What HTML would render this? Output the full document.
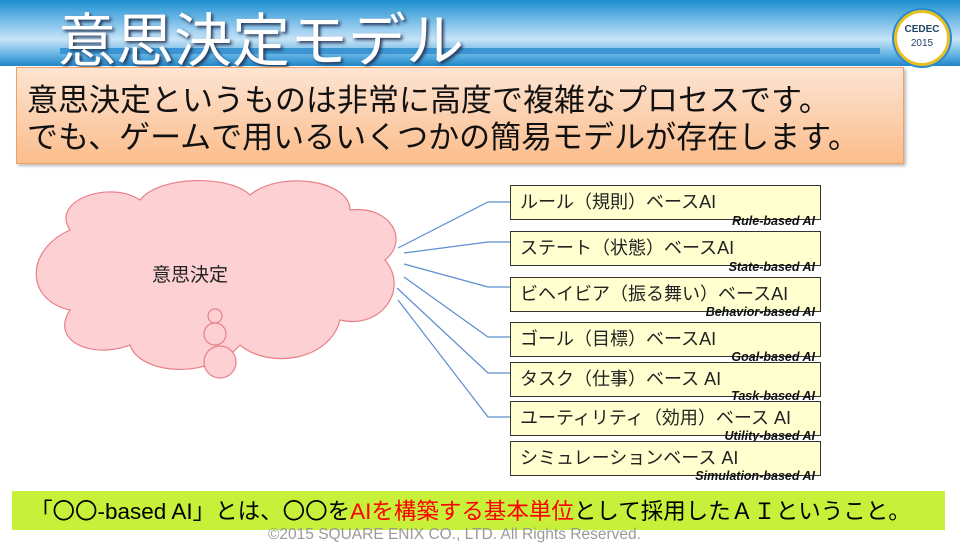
<!DOCTYPE html>
<html><head><meta charset="utf-8"><style>
body{margin:0;width:960px;height:540px;overflow:hidden;background:#fff;font-family:"Liberation Sans","Noto Sans CJK JP",sans-serif;position:relative}
.hdr{position:absolute;left:0;top:0;width:960px;height:66px;background:linear-gradient(#1a8fd0 0%,#9fd0f2 45%,#c6e3f7 60%,#5aaee0 85%,#1f86c8 100%)}
.bar{position:absolute;left:60px;top:48px;width:820px;height:6px;background:#3b95d2}
.title{position:absolute;left:58px;top:-6px;font-size:58px;color:#fff;text-shadow:2px 2px 3px #235;font-family:"Noto Sans CJK JP",sans-serif;white-space:nowrap}
.logo{position:absolute;left:894px;top:10px;width:50px;height:50px;border-radius:50%;background:#fff;border:3px solid #e8c020;box-shadow:0 0 0 2px #2a8ad0;text-align:center;font-size:10px;line-height:14px;color:#246}
.intro{position:absolute;left:16px;top:67px;width:886px;height:95px;background:linear-gradient(#fde4d2,#fbbd8c);border:1px solid #f0a060;box-shadow:2px 2px 3px #bbb}
.intro div{position:absolute;left:10px;font-size:31px;color:#111;font-family:"Noto Sans CJK JP",sans-serif;white-space:nowrap;line-height:36px}
.box{position:absolute;left:510px;height:35px;background:#ffffd0;border:1px solid #333;font-size:18px;line-height:33px;padding-left:9px;box-sizing:border-box;width:311px;color:#222}
.sub{position:absolute;right:145px;font-size:12.5px;font-style:italic;font-weight:bold;color:#111}
.green{position:absolute;left:12px;top:491px;width:933px;height:39px;background:#c6f03a;font-size:22.5px;line-height:39px;padding-left:18px;box-sizing:border-box;white-space:nowrap;font-family:"Noto Sans CJK JP",sans-serif}
.green span.l{font-family:"Liberation Sans","Noto Sans CJK JP",sans-serif}
.copy{position:absolute;left:268px;top:526px;font-size:15.5px;color:#999}
</style></head><body>
<div class="hdr"></div><div class="bar"></div>
<div class="title">意思決定モデル</div>
<div class="logo"><div style="margin-top:10px;font-weight:bold">CEDEC</div><div>2015</div></div>
<div class="intro"><div style="top:12px">意思決定というものは非常に高度で複雑なプロセスです。</div><div style="top:49px">でも、ゲームで用いるいくつかの簡易モデルが存在します。</div></div>
<svg style="position:absolute;left:0;top:0" width="960" height="540">
<g fill="#fdd0d4" stroke="#e88088" stroke-width="1.2">
<path d="M70,230 C50,200 110,180 140,200 C160,175 230,175 250,195 C280,170 350,180 350,210 C390,205 410,240 385,260 C410,290 380,330 340,320 C330,360 270,370 240,345 C210,380 140,375 130,345 C90,360 50,340 70,310 C25,300 25,250 70,230 Z"/>
<circle cx="215" cy="316" r="7"/><circle cx="215" cy="334" r="11"/><circle cx="220" cy="362" r="16"/>
</g>
<text x="152" y="281" font-size="19" fill="#222" font-family="Noto Sans CJK JP">意思決定</text>
<g fill="none" stroke="#5b8fd0" stroke-width="1.2">
<polyline points="398,248 488,202 510,202"/>
<polyline points="404,253 488,242 510,242"/>
<polyline points="404,264 488,287 510,287"/>
<polyline points="404,277 488,337 510,337"/>
<polyline points="397,288 488,373 510,373"/>
<polyline points="398,300 488,417 510,417"/>
</g>
</svg>
<div class="box" style="top:185px">ルール（規則）ベースAI</div><div class="sub" style="top:214px">Rule-based AI</div>
<div class="box" style="top:231px">ステート（状態）ベースAI</div><div class="sub" style="top:260px">State-based AI</div>
<div class="box" style="top:277px">ビヘイビア（振る舞い）ベースAI</div><div class="sub" style="top:305px">Behavior-based AI</div>
<div class="box" style="top:322px">ゴール（目標）ベースAI</div><div class="sub" style="top:350px">Goal-based AI</div>
<div class="box" style="top:362px">タスク（仕事）ベース AI</div><div class="sub" style="top:389px">Task-based AI</div>
<div class="box" style="top:401px">ユーティリティ（効用）ベース AI</div><div class="sub" style="top:429px">Utility-based AI</div>
<div class="box" style="top:441px">シミュレーションベース AI</div><div class="sub" style="top:469px">Simulation-based AI</div>
<div class="green">「〇〇<span class="l">-based AI</span>」とは、〇〇を<span style="color:#f00"><span class="l">AI</span>を構築する基本単位</span>として採用したＡＩということ。</div>
<div class="copy">©2015 SQUARE ENIX CO., LTD. All Rights Reserved.</div>
</body></html>
